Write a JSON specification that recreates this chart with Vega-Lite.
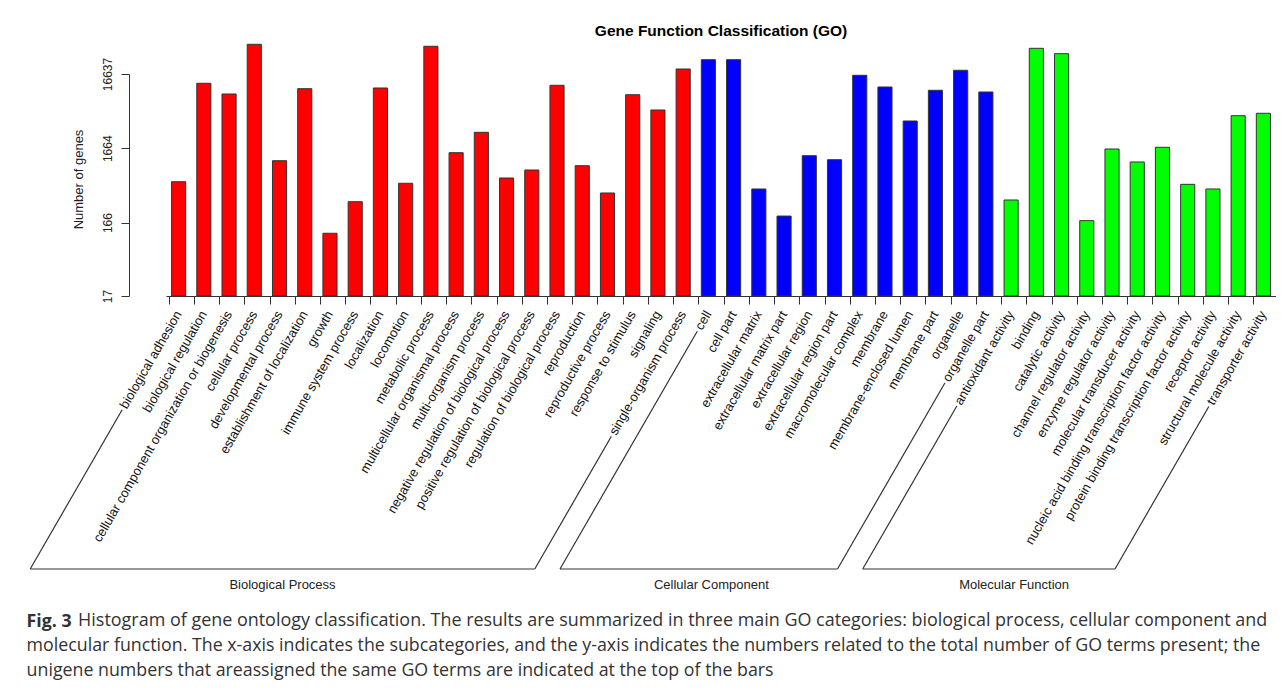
{
  "$schema": "https://vega.github.io/schema/vega-lite/v6.json",
  "background": "white",
  "padding": {"left": 26, "top": 24, "right": 0, "bottom": 0},
  "config": {
    "view": {"stroke": null},
    "font": "Liberation Sans"
  },
  "datasets": {
    "go": [
      {"term": "biological adhesion", "category": "Biological Process", "genes": 589},
      {"term": "biological regulation", "category": "Biological Process", "genes": 12470},
      {"term": "cellular component organization or biogenesis", "category": "Biological Process", "genes": 8950},
      {"term": "cellular process", "category": "Biological Process", "genes": 41800},
      {"term": "developmental process", "category": "Biological Process", "genes": 1130},
      {"term": "establishment of localization", "category": "Biological Process", "genes": 10550},
      {"term": "growth", "category": "Biological Process", "genes": 119},
      {"term": "immune system process", "category": "Biological Process", "genes": 317},
      {"term": "localization", "category": "Biological Process", "genes": 10780},
      {"term": "locomotion", "category": "Biological Process", "genes": 561},
      {"term": "metabolic process", "category": "Biological Process", "genes": 39290},
      {"term": "multicellular organismal process", "category": "Biological Process", "genes": 1449},
      {"term": "multi-organism process", "category": "Biological Process", "genes": 2727},
      {"term": "negative regulation of biological process", "category": "Biological Process", "genes": 661},
      {"term": "positive regulation of biological process", "category": "Biological Process", "genes": 847},
      {"term": "regulation of biological process", "category": "Biological Process", "genes": 11720},
      {"term": "reproduction", "category": "Biological Process", "genes": 968},
      {"term": "reproductive process", "category": "Biological Process", "genes": 415},
      {"term": "response to stimulus", "category": "Biological Process", "genes": 8753},
      {"term": "signaling", "category": "Biological Process", "genes": 5447},
      {"term": "single-organism process", "category": "Biological Process", "genes": 19430},
      {"term": "cell", "category": "Cellular Component", "genes": 25940},
      {"term": "cell part", "category": "Cellular Component", "genes": 25930},
      {"term": "extracellular matrix", "category": "Cellular Component", "genes": 470},
      {"term": "extracellular matrix part", "category": "Cellular Component", "genes": 203},
      {"term": "extracellular region", "category": "Cellular Component", "genes": 1320},
      {"term": "extracellular region part", "category": "Cellular Component", "genes": 1166},
      {"term": "macromolecular complex", "category": "Cellular Component", "genes": 15980},
      {"term": "membrane", "category": "Cellular Component", "genes": 11120},
      {"term": "membrane-enclosed lumen", "category": "Cellular Component", "genes": 3873},
      {"term": "membrane part", "category": "Cellular Component", "genes": 10040},
      {"term": "organelle", "category": "Cellular Component", "genes": 18670},
      {"term": "organelle part", "category": "Cellular Component", "genes": 9522},
      {"term": "antioxidant activity", "category": "Molecular Function", "genes": 334},
      {"term": "binding", "category": "Molecular Function", "genes": 36920},
      {"term": "catalytic activity", "category": "Molecular Function", "genes": 31250},
      {"term": "channel regulator activity", "category": "Molecular Function", "genes": 176},
      {"term": "enzyme regulator activity", "category": "Molecular Function", "genes": 1625},
      {"term": "molecular transducer activity", "category": "Molecular Function", "genes": 1086},
      {"term": "nucleic acid binding transcription factor activity", "category": "Molecular Function", "genes": 1712},
      {"term": "protein binding transcription factor activity", "category": "Molecular Function", "genes": 543},
      {"term": "receptor activity", "category": "Molecular Function", "genes": 470},
      {"term": "structural molecule activity", "category": "Molecular Function", "genes": 4565},
      {"term": "transporter activity", "category": "Molecular Function", "genes": 4918}
    ],
    "groups": [
      {"group": "Biological Process", "first": "biological adhesion", "last": "single-organism process", "mid": "metabolic process"},
      {"group": "Cellular Component", "first": "cell", "last": "organelle part", "mid": "macromolecular complex"},
      {"group": "Molecular Function", "first": "antioxidant activity", "last": "transporter activity", "mid": "nucleic acid binding transcription factor activity"}
    ]
  },
  "title": {
    "text": "Fig. 3",
    "subtitle": [
      "molecular function. The x-axis indicates the subcategories, and the y-axis indicates the numbers related to the total number of GO terms present; the",
      "unigene numbers that areassigned the same GO terms are indicated at the top of the bars"
    ],
    "orient": "bottom",
    "anchor": "start",
    "offset": -17,
    "dx": -3,
    "font": "Open Sans",
    "fontSize": 17.8,
    "fontWeight": "bold",
    "color": "#333333",
    "subtitleFont": "Open Sans",
    "subtitleFontSize": 17.8,
    "subtitleFontWeight": "normal",
    "subtitleColor": "#333333",
    "subtitleLineHeight": 24.5,
    "subtitlePadding": 6.5
  },
  "vconcat": [
    {
      "title": {
        "text": "Histogram of gene ontology classification. The results are summarized in three main GO categories: biological process, cellular component and",
        "orient": "bottom",
        "anchor": "start",
        "offset": 20,
        "dx": 48.5,
        "font": "Open Sans",
        "fontSize": 17.95,
        "fontWeight": "normal",
        "color": "#333333"
      },
      "vconcat": [
        {
          "title": {
            "text": "Gene Function Classification (GO)",
            "font": "Liberation Sans",
            "fontSize": 15.5,
            "fontWeight": "bold",
            "color": "#000000",
            "anchor": "middle",
            "frame": "group",
            "offset": 4
          },
          "width": 1110,
          "height": 222,
          "layer": [
            {
              "data": {"name": "go"},
              "mark": {"type": "bar", "stroke": "#333333", "strokeWidth": 1},
              "encoding": {
                "x": {
                  "field": "term",
                  "type": "nominal",
                  "sort": null,
                  "scale": {"paddingInner": 0.44, "paddingOuter": 0.22},
                  "axis": {
                    "title": null,
                    "labels": false,
                    "ticks": true,
                    "tickSize": 8,
                    "tickOffset": -10,
                    "tickColor": "#333333",
                    "domainColor": "#333333",
                    "grid": false
                  }
                },
                "y": {
                  "field": "genes",
                  "type": "quantitative",
                  "scale": {"type": "log", "domain": [17, 16637], "nice": false},
                  "axis": {
                    "title": "Number of genes",
                    "values": [17, 166, 1664, 16637],
                    "format": "d",
                    "offset": 37,
                    "grid": false,
                    "tickSize": 8,
                    "tickColor": "#333333",
                    "domainColor": "#333333",
                    "labelAngle": -90,
                    "labelAlign": "center",
                    "labelBaseline": "alphabetic",
                    "labelPadding": 10,
                    "labelFont": "Liberation Sans",
                    "labelFontSize": 12,
                    "labelColor": "#222222",
                    "titleFont": "Liberation Sans",
                    "titleFontSize": 13,
                    "titleFontWeight": "normal",
                    "titleColor": "#222222",
                    "titlePadding": 16,
                    "titleY": 105
                  }
                },
                "y2": {"datum": 17},
                "color": {
                  "field": "category",
                  "type": "nominal",
                  "scale": {
                    "domain": ["Biological Process", "Cellular Component", "Molecular Function"],
                    "range": ["#ff0000", "#0000ff", "#00ff00"]
                  },
                  "legend": null
                }
              }
            },
            {
              "data": {"name": "groups"},
              "mark": {"type": "rule", "stroke": "#333333", "strokeWidth": 1.2, "xOffset": -148.4, "x2Offset": -148.4, "yOffset": 273},
              "encoding": {
                "x": {"field": "first", "type": "nominal", "sort": null},
                "x2": {"field": "last"},
                "y": {"datum": 17}
              }
            },
            {
              "data": {"name": "groups"},
              "mark": {"type": "rule", "stroke": "#333333", "strokeWidth": 1.2, "xOffset": -148.4, "yOffset": 273, "y2Offset": 16},
              "encoding": {
                "x": {"field": "first", "type": "nominal", "sort": null},
                "x2": {"field": "first"},
                "y": {"datum": 17},
                "y2": {"datum": 17}
              }
            },
            {
              "data": {"name": "groups"},
              "mark": {"type": "rule", "stroke": "#333333", "strokeWidth": 1.2, "xOffset": -148.4, "yOffset": 273, "y2Offset": 16},
              "encoding": {
                "x": {"field": "last", "type": "nominal", "sort": null},
                "x2": {"field": "last"},
                "y": {"datum": 17},
                "y2": {"datum": 17}
              }
            },
            {
              "data": {"name": "groups"},
              "mark": {"type": "text", "angle": 300, "align": "right", "baseline": "middle", "font": "Liberation Sans", "fontSize": 13, "fill": "white", "stroke": "white", "strokeWidth": 6, "yOffset": 16},
              "encoding": {
                "x": {"field": "first", "type": "nominal", "sort": null},
                "y": {"datum": 17},
                "text": {"field": "first"}
              }
            },
            {
              "data": {"name": "groups"},
              "mark": {"type": "text", "angle": 300, "align": "right", "baseline": "middle", "font": "Liberation Sans", "fontSize": 13, "fill": "white", "stroke": "white", "strokeWidth": 6, "yOffset": 16},
              "encoding": {
                "x": {"field": "last", "type": "nominal", "sort": null},
                "y": {"datum": 17},
                "text": {"field": "last"}
              }
            },
            {
              "data": {"name": "go"},
              "mark": {"type": "text", "angle": 300, "align": "right", "baseline": "middle", "font": "Liberation Sans", "fontSize": 13, "fill": "#111111", "yOffset": 16},
              "encoding": {
                "x": {"field": "term", "type": "nominal", "sort": null},
                "y": {"datum": 17},
                "text": {"field": "term"}
              }
            },
            {
              "data": {"name": "groups"},
              "mark": {"type": "text", "align": "center", "baseline": "alphabetic", "font": "Liberation Sans", "fontSize": 13, "fill": "#222222", "xOffset": -148.4, "yOffset": 293},
              "encoding": {
                "x": {"field": "mid", "type": "nominal", "sort": null},
                "y": {"datum": 17},
                "text": {"field": "group"}
              }
            }
          ]
        }
      ]
    }
  ]
}
